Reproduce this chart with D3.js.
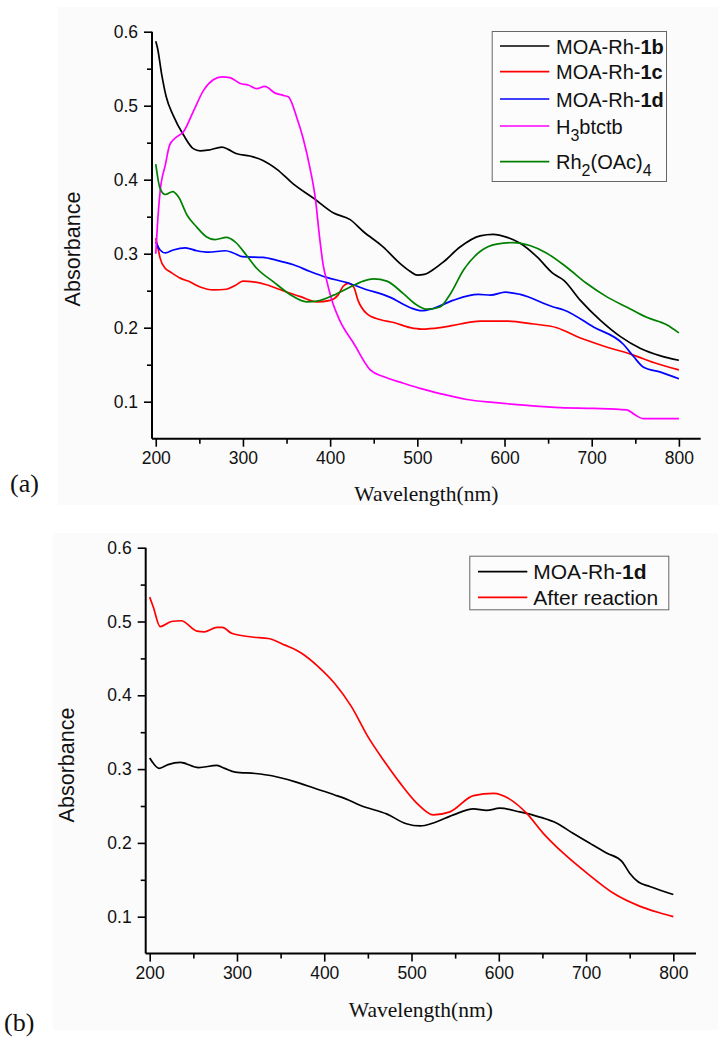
<!DOCTYPE html>
<html>
<head>
<meta charset="utf-8">
<script src="https://cdn.jsdelivr.net/npm/d3@7/dist/d3.min.js"></script>
<style>
  html, body { margin: 0; padding: 0; background: #fff; }
  svg { display: block; }
</style>
</head>
<body>
<svg id="fig" width="718" height="1037"></svg>
<script>
// ---- Panel (a): UV-vis spectra ----
const wl1b  = [200,202,207,212,220,232,243,251,260,276,283,293,308,323,339,358,381,404,423,438,461,480,492,500,508,515,530,549,572,587,603,618,637,656,668,687,710,733,756,779,800];
const abs1b = [.587,.578,.541,.512,.487,.460,.442,.439,.440,.444,.441,.435,.432,.426,.414,.394,.375,.355,.346,.330,.309,.287,.276,.271,.272,.276,.289,.309,.324,.326,.322,.314,.296,.273,.264,.237,.210,.188,.172,.162,.156];

const wl1c  = [200,203,205,211,216,228,239,251,266,281,291,300,312,327,346,366,385,400,409,415,421,427,432,442,457,473,492,505,526,549,572,603,633,660,687,717,748,771,800];
const abs1c = [.321,.305,.294,.280,.276,.267,.262,.255,.251,.252,.257,.263,.262,.258,.250,.242,.235,.237,.244,.256,.260,.255,.237,.219,.211,.207,.200,.198,.200,.205,.209,.209,.205,.200,.186,.174,.163,.153,.143];

const wl1d  = [200,205,211,220,234,247,260,280,289,299,323,339,358,377,396,419,438,469,492,505,518,541,570,584,601,618,656,668,702,736,748,759,779,800];
const abs1d = [.316,.305,.301,.305,.308,.304,.302,.304,.301,.296,.295,.291,.285,.276,.268,.261,.253,.241,.227,.223,.226,.237,.245,.244,.248,.245,.228,.224,.201,.178,.161,.147,.140,.131];

const wlLig  = [200,202,205,211,216,222,232,243,255,266,276,285,297,306,316,325,337,346,352,362,369,377,383,388,392,396,402,411,427,446,461,484,503,526,557,587,626,664,702,740,750,759,800];
const absLig = [.300,.340,.384,.420,.447,.456,.465,.492,.521,.535,.539,.538,.530,.528,.523,.526,.517,.514,.512,.483,.456,.415,.375,.321,.285,.264,.237,.210,.179,.143,.134,.125,.118,.111,.103,.099,.095,.092,.091,.089,.082,.077,.077];

const wlRh  = [200,205,211,219.5,226,236,247,258,268,281,291,304,316,335,354,373,385,404,423,438,450,465,484,499,511,526,538,553,572,591,610,629,648,671,694,717,740,763,786,800];
const absRh = [.421,.388,.380,.384,.377,.352,.336,.323,.319,.322,.316,.298,.280,.262,.245,.235,.236,.244,.255,.263,.266,.263,.246,.231,.225,.228,.246,.278,.303,.313,.315,.311,.301,.282,.260,.242,.228,.214,.204,.193];

// ---- Panel (b): catalyst before / after reaction ----
const wlBefore  = [200,211,221,235,256,277,286,298,321,340,366,389,412,424,441,472,494,510,525,548,571,586,601,624,647,666,685,705,724,741,750,760,773,800];
const absBefore = [.315,.301,.306,.309,.302,.305,.301,.296,.294,.291,.283,.274,.265,.260,.251,.239,.226,.223,.227,.238,.246,.244,.247,.242,.235,.227,.213,.199,.186,.175,.159,.147,.141,.130];

const wlAfter  = [200,204,212,225,236,254,263,277,283,294,317,336,355,374,393,412,431,450,468,487,506,525,544,571,594,613,632,651,674,701,731,762,785,800];
const absAfter = [.533,.520,.493,.500,.501,.487,.486,.492,.492,.484,.479,.477,.468,.457,.439,.416,.385,.344,.312,.281,.254,.238,.242,.264,.267,.259,.240,.213,.186,.159,.132,.114,.105,.100];

// ---- axis ticks ----
const xMajor = [200,300,400,500,600,700,800];
const xMinor = [250,350,450,550,650,750];
const yMajor = [0.1,0.2,0.3,0.4,0.5,0.6];
const yMinor = [0.15,0.25,0.35,0.45,0.55];

const SANS = "'Liberation Sans', Arial, Helvetica, sans-serif";
const SERIF = "'Liberation Serif', 'Times New Roman', serif";

const svg = d3.select("#fig");

function drawPanel(p) {
  const g = svg.append("g");
  g.append("rect").attr("x", p.bg[0]).attr("y", p.bg[1])
    .attr("width", p.bg[2]).attr("height", p.bg[3]).attr("fill", "#fbfbfb");

  const x = d3.scaleLinear().domain(p.xDomain).range([p.left, p.right]);
  const y = d3.scaleLinear().domain([0.05, 0.6]).range([p.bottom, p.top]);

  const line = d3.line().x(d => x(d[0])).y(d => y(d[1])).curve(d3.curveMonotoneX);

  p.series.forEach(s => {
    g.append("path")
      .datum(s.wl.map((w, i) => [w, s.abs[i]]))
      .attr("fill", "none").attr("stroke", s.color)
      .attr("stroke-width", 1.7).attr("stroke-linejoin", "round")
      .attr("d", line);
  });

  // axes
  const xAx = g.append("g").attr("transform", `translate(0,${p.bottom})`)
    .call(d3.axisBottom(x).tickValues(xMajor).tickFormat(d3.format("d")).tickSize(8).tickPadding(5));
  g.append("g").attr("transform", `translate(0,${p.bottom})`)
    .call(d3.axisBottom(x).tickValues(xMinor).tickFormat("").tickSize(5))
    .select(".domain").remove();
  const yAx = g.append("g").attr("transform", `translate(${p.left},0)`)
    .call(d3.axisLeft(y).tickValues(yMajor).tickFormat(d3.format(".1f")).tickSize(8).tickPadding(6));
  g.append("g").attr("transform", `translate(${p.left},0)`)
    .call(d3.axisLeft(y).tickValues(yMinor).tickFormat("").tickSize(5))
    .select(".domain").remove();

  g.selectAll(".domain").attr("stroke", "#000").attr("stroke-width", 2);
  g.selectAll(".tick line").attr("stroke", "#000").attr("stroke-width", 1.6);
  g.selectAll(".tick text").attr("font-family", SANS).attr("font-size", 17.5).attr("fill", "#111");
  xAx.selectAll(".domain").attr("d", `M${p.left},0H${p.right}`);
  yAx.selectAll(".domain").attr("d", `M0,${p.bottom}V${p.top}`);

  // axis titles
  g.append("text")
    .attr("transform", `translate(${p.yTitle[0]},${p.yTitle[1]}) rotate(-90)`)
    .attr("text-anchor", "middle").attr("font-family", SANS).attr("font-size", 21.5)
    .attr("fill", "#111").text("Absorbance");
  g.append("text")
    .attr("x", (p.left + p.right) / 2).attr("y", p.xTitleY)
    .attr("text-anchor", "middle").attr("font-family", SERIF).attr("font-size", 21.5)
    .attr("fill", "#111").text("Wavelength(nm)");

  // panel letter
  g.append("text").attr("x", p.letter[0]).attr("y", p.letter[1])
    .attr("font-family", SERIF).attr("font-size", 26).attr("fill", "#111").text(p.letterText);

  // legend
  const L = p.legend;
  g.append("rect").attr("x", L.box[0] + 0.5).attr("y", L.box[1] + 0.5)
    .attr("width", L.box[2]).attr("height", L.box[3])
    .attr("fill", "#fcfcfc").attr("stroke", "#666").attr("stroke-width", 1);
  p.series.forEach((s, i) => {
    const ly = L.rows[i];
    g.append("line").attr("x1", L.lineX[0]).attr("x2", L.lineX[1])
      .attr("y1", ly).attr("y2", ly).attr("stroke", s.color).attr("stroke-width", 1.7);
    const t = g.append("text").attr("x", L.textX).attr("y", ly + 7.5)
      .attr("font-family", SANS).attr("font-size", L.fontSize).attr("fill", "#111");
    s.label.forEach(part => {
      const ts = t.append("tspan").text(part.t);
      if (part.b) ts.attr("font-weight", "bold");
      if (part.sub) ts.attr("font-size", L.fontSize * 0.8).attr("dy", 7);
      if (part.up) ts.attr("dy", -7);
    });
  });
}

drawPanel({
  bg: [58, 7, 660, 498],
  xDomain: [195.7, 825], left: 152, right: 700.7, top: 31.7, bottom: 438.7,
  yTitle: [80, 249], xTitleY: 500.5, letter: [10, 492], letterText: "(a)",
  series: [
    { wl: wl1b, abs: abs1b, color: "#000000", label: [{t: "MOA-Rh-"}, {t: "1b", b: true}] },
    { wl: wl1c, abs: abs1c, color: "#ff0000", label: [{t: "MOA-Rh-"}, {t: "1c", b: true}] },
    { wl: wl1d, abs: abs1d, color: "#0000ff", label: [{t: "MOA-Rh-"}, {t: "1d", b: true}] },
    { wl: wlLig, abs: absLig, color: "#ff00ff", label: [{t: "H"}, {t: "3", sub: true}, {t: "btctb", up: true}] },
    { wl: wlRh, abs: absRh, color: "#008000", label: [{t: "Rh"}, {t: "2", sub: true}, {t: "(OAc)", up: true}, {t: "4", sub: true}] }
  ],
  legend: { box: [491.7, 31, 174.3, 150], rows: [46, 71.7, 99, 126, 161.7], lineX: [500, 549.3], textX: 556, fontSize: 20 }
});

drawPanel({
  bg: [53, 533, 665, 497],
  xDomain: [195.4, 826], left: 145.7, right: 696, top: 547.7, bottom: 953.6,
  yTitle: [74, 765], xTitleY: 1016.5, letter: [4, 1031], letterText: "(b)",
  series: [
    { wl: wlBefore, abs: absBefore, color: "#000000", label: [{t: "MOA-Rh-"}, {t: "1d", b: true}] },
    { wl: wlAfter, abs: absAfter, color: "#ff0000", label: [{t: "After reaction"}] }
  ],
  legend: { box: [469.3, 555.7, 199, 53.6], rows: [571.7, 597.3], lineX: [478, 527.3], textX: 533.3, fontSize: 21 }
});
</script>
</body>
</html>
